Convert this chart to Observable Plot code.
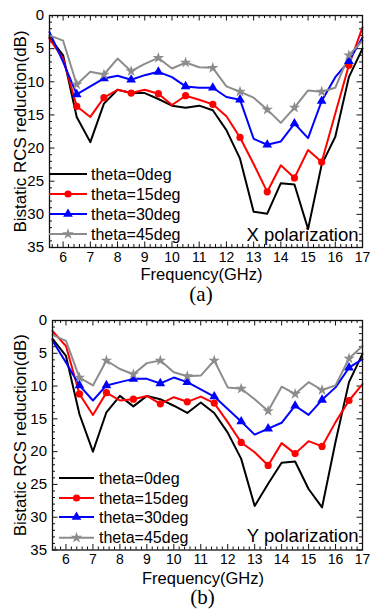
<!DOCTYPE html>
<html><head><meta charset="utf-8">
<script src="https://cdn.jsdelivr.net/npm/d3@7"></script>
<script src="https://cdn.jsdelivr.net/npm/@observablehq/plot@0.6"></script>
<style>
body{margin:0;background:#fff;}
#chart{width:370px;}
#chart svg{display:block;}
</style>
</head><body><div id="chart"></div>
<script>
// ---- data ----
const freq = [5.5,6,6.5,7,7.5,8,8.5,9,9.5,10,10.5,11,11.5,12,12.5,13,13.5,14,14.5,15,15.5,16,16.5,17];
const seriesNames = ["theta=0deg","theta=15deg","theta=30deg","theta=45deg"];
const seriesColors = ["#000000","#ff0000","#0000ff","#8c8c8c"];
const seriesSymbols = ["circle","circle","triangle","star"];
const xTicks = [6,7,8,9,10,11,12,13,14,15,16,17];
const yTicks = [0,5,10,15,20,25,30,35];
const yLabel = "Bistatic RCS reduction(dB)";
const xLabel = "Frequency(GHz)";

// X polarization
const xPol0  = [3.3,6.0,15.3,19.1,13.3,11.2,11.7,11.7,12.6,13.6,13.9,13.6,14.3,17.3,21.6,29.6,29.9,25.3,25.5,32.2,22.5,18.3,9.3,5.0];
const xPol15 = [3.5,6.5,13.7,15.3,12.4,11.2,11.7,11.2,11.8,13.5,12.1,12.7,13.4,15.2,18.4,22.4,26.6,22.6,24.5,20.3,22.1,14.8,7.5,1.8];
const xPol30 = [2.5,7.0,11.9,10.7,9.5,9.1,9.7,9.0,8.5,9.3,10.7,10.9,10.9,12.3,12.7,18.6,19.5,19.0,16.3,18.5,12.9,9.3,6.9,3.3];
const xPol45 = [3.0,3.8,10.4,8.5,8.9,6.5,8.4,7.3,6.4,8.0,7.1,7.8,7.9,10.7,11.5,12.4,14.2,16.2,13.9,11.3,11.5,10.9,6.0,3.8];

// Y polarization
const yPol0  = [2.8,5.4,14.3,20.0,14.0,11.5,13.1,11.5,12.0,13.0,14.1,12.5,14.1,17.1,21.1,28.3,24.9,21.7,21.5,25.7,28.5,18.5,9.4,5.1];
const yPol15 = [1.6,3.9,11.2,14.4,11.0,12.2,12.0,11.5,12.7,11.7,12.4,11.6,12.6,15.5,18.6,20.1,22.1,18.7,20.3,18.4,19.2,15.5,12.2,9.7];
const yPol30 = [3.1,6.4,9.9,12.2,9.9,9.4,8.9,8.9,9.6,8.7,9.4,10.5,11.6,13.5,15.4,17.4,16.5,15.6,13.0,14.4,12.1,10.2,7.2,5.9];
const yPol45 = [2.2,3.1,8.7,9.9,6.1,7.4,8.2,6.5,6.1,7.9,8.5,8.4,6.1,10.2,10.4,12.0,13.8,10.1,11.2,9.4,10.6,9.9,5.8,3.9];

// ---- build ----
function toRows(list){
  return list.flatMap((vals,s)=>vals.map((v,i)=>({f:freq[i], v, s:seriesNames[s], i})));
}
const xMinor = d3.range(56,171,2).map(d=>d/10).filter(d=>Math.abs(d-Math.round(d))>1e-6);
const yMinor = d3.range(1,35).filter(d=>d%5!==0);
const FONT = "'Liberation Sans', Arial, Helvetica, sans-serif";

function panel(cfg){
  const {series, pol, tag, height, mt, mb, ml, mr, polDy, legend} = cfg;
  const W = 370;
  const innerH = height - mt - mb;
  const innerW = W - ml - mr;
  const rows = toRows(series);
  const dots = rows.filter(d=>d.s!==seriesNames[0] && d.i%2===0 && d.i>=2 && d.i<=22);
  const svg = Plot.plot({
    width: W, height,
    marginTop: mt, marginBottom: mb, marginLeft: ml, marginRight: mr,
    style: {fontFamily: FONT, fontSize: "15px", background: "#fff", overflow: "visible", color: "#000"},
    x: {domain: [5.5,17]},
    y: {domain: [0,35], reverse: true},
    color: {domain: seriesNames, range: seriesColors},
    symbol: {domain: seriesNames, range: seriesSymbols},
    marks: [
      Plot.tickX(xMinor, {x: d=>d, insetTop: innerH-3, stroke:"#111"}),
      Plot.tickX(xTicks, {x: d=>d, insetTop: innerH-5.5, stroke:"#111"}),
      Plot.tickX(xMinor, {x: d=>d, insetBottom: innerH-3, stroke:"#111"}),
      Plot.tickX(xTicks, {x: d=>d, insetBottom: innerH-5.5, stroke:"#111"}),
      Plot.tickY(yMinor, {y: d=>d, insetRight: innerW-3, stroke:"#111"}),
      Plot.tickY(yTicks, {y: d=>d, insetRight: innerW-5.5, stroke:"#111"}),
      Plot.tickY(yMinor, {y: d=>d, insetLeft: innerW-3, stroke:"#111"}),
      Plot.tickY(yTicks, {y: d=>d, insetLeft: innerW-5.5, stroke:"#111"}),
      Plot.axisX({ticks: xTicks, tickSize: 0, tickPadding: cfg.xPad, fontSize: 14, label: null}),
      Plot.axisY({ticks: yTicks, tickSize: 0, tickPadding: 5.5, fontSize: 15, label: null}),
      Plot.line(rows, {x:"f", y:"v", z:"s", stroke:"s", strokeWidth: 2, strokeLinejoin:"round"}),
      Plot.dot(dots, {x:"f", y:"v", fill:"s", symbol:"s", r: 3.6, stroke: null}),
      Plot.frame({stroke:"#111", strokeWidth: 1.3}),
      Plot.text([pol], {frameAnchor:"bottom-right", textAnchor:"end", lineAnchor:"bottom", dx:-4, dy: polDy, fontSize: 18.5}),
      Plot.text([yLabel], {frameAnchor:"left", textAnchor:"middle", lineAnchor:"middle", rotate:-90, dx: -(ml-20), fontSize: 17}),
      Plot.text([xLabel], {frameAnchor:"bottom", textAnchor:"middle", lineAnchor:"top", dx: -4.5, dy: cfg.xlDy, fontSize: 16.5}),
      Plot.text([tag], {frameAnchor:"bottom", textAnchor:"middle", lineAnchor:"middle", dx: -5, dy: cfg.tagDy, fontSize: 21, fontFamily: "'Liberation Serif', 'Times New Roman', serif"})
    ]
  });
  // legend inside plot (lower-left)
  const g = d3.select(svg).append("g").attr("font-family", FONT).attr("font-size", 16).attr("text-anchor", "start");
  seriesNames.forEach((name,k)=>{
    const y = legend.ys[k];
    g.append("line").attr("x1", legend.x0).attr("x2", legend.x1).attr("y1", y).attr("y2", y)
      .attr("stroke", seriesColors[k]).attr("stroke-width", 2);
    if (k>0){
      const typ = {circle: d3.symbolCircle, triangle: d3.symbolTriangle, star: d3.symbolStar}[seriesSymbols[k]];
      g.append("path").attr("d", d3.symbol(typ, Math.PI*3.6*3.6)())
        .attr("transform", `translate(${(legend.x0+legend.x1)/2},${y})`).attr("fill", seriesColors[k]);
    }
    g.append("text").attr("x", legend.tx).attr("y", y).attr("dy", "0.35em").attr("text-anchor","start").attr("fill","#000").text(name);
  });
  return svg;
}

const root = document.getElementById("chart");
root.appendChild(panel({
  series: [xPol0,xPol15,xPol30,xPol45], pol: "X polarization", tag: "(a)",
  height: 306, mt: 15, mb: 59, ml: 49, mr: 8, polDy: -6.5, xPad: 5, xlDy: 21, tagDy: 47,
  legend: {x0: 49, x1: 87, tx: 91, ys: [174,194,214,234]}
}));
root.appendChild(panel({
  series: [yPol0,yPol15,yPol30,yPol45], pol: "Y polarization", tag: "(b)",
  height: 308, mt: 14, mb: 64.5, ml: 52, mr: 8, polDy: -8.5, xPad: 4.5, xlDy: 22, tagDy: 47.5,
  legend: {x0: 59, x1: 94, tx: 99, ys: [172,192,211,231.7]}
}));
</script></body></html>
